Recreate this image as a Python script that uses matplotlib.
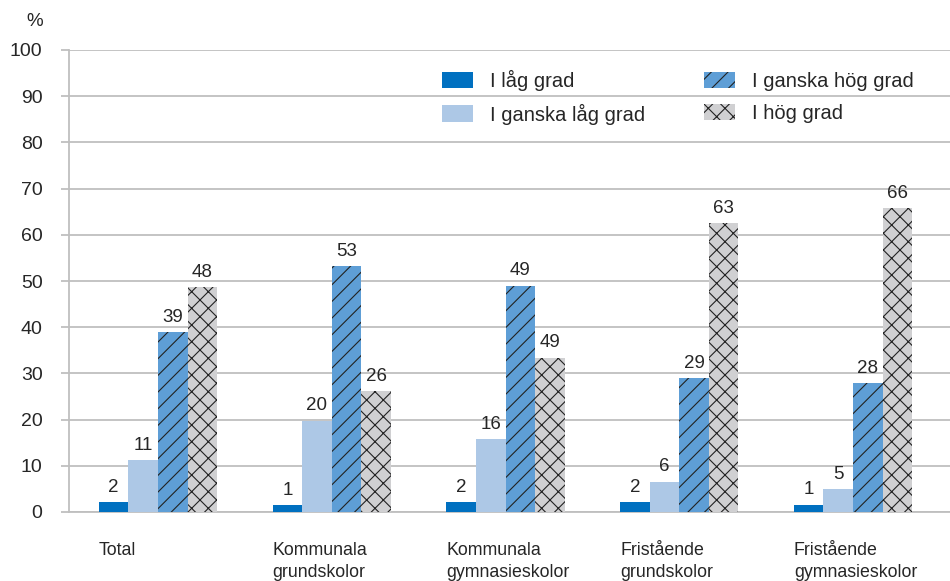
import matplotlib
matplotlib.use("Agg")
import matplotlib.pyplot as plt
import numpy as np

categories = ["Total", "Kommunala\ngrundskolor", "Kommunala\ngymnasieskolor",
              "Fristående\ngrundskolor", "Fristående\ngymnasieskolor"]
series_names = ["I låg grad", "I ganska låg grad", "I ganska hög grad", "I hög grad"]
# bar heights as drawn
low = [2.2, 1.5, 2.2, 2.2, 1.6]
fairly_low = [11.3, 19.8, 15.8, 6.6, 5.0]
fairly_high = [38.9, 53.3, 49.0, 29.0, 27.9]
high = [48.6, 26.2, 33.4, 62.6, 65.8]
# value labels as printed
low_lbl = ["2", "1", "2", "2", "1"]
fairly_low_lbl = ["11", "20", "16", "6", "5"]
fairly_high_lbl = ["39", "53", "49", "29", "28"]
high_lbl = ["48", "26", "49", "63", "66"]
y_ticks = [0, 10, 20, 30, 40, 50, 60, 70, 80, 90, 100]

plt.rcParams['font.family'] = ['Liberation Sans', 'DejaVu Sans']
plt.rcParams['hatch.linewidth'] = 0.8

fig = plt.figure(figsize=(9.5, 5.81), dpi=100)
ax = fig.add_axes([69/950, (581-512)/581, 1 - 69/950, (512-50)/581])

colors = ["#0070C0", "#ADC8E6", "#5E9ED6", "#D0D0D2"]
hatches = [None, None, "//", "xx"]
values = [low, fairly_low, fairly_high, high]
labels = [low_lbl, fairly_low_lbl, fairly_high_lbl, high_lbl]
txt = "#262626"

x = np.arange(len(categories))
w = 0.17
for i in range(4):
    pos = x + (i - 1.5) * w
    bars = ax.bar(pos, values[i], width=w, color=colors[i], hatch=hatches[i],
                  edgecolor="#222222" if hatches[i] else colors[i],
                  linewidth=0, label=series_names[i], zorder=3)
    for b, t in zip(bars, labels[i]):
        ax.annotate(t, (b.get_x() + b.get_width()/2, b.get_height()),
                    xytext=(0, 4.5), textcoords="offset points",
                    ha="center", va="bottom", fontsize=13.5, color=txt)

ax.set_xlim(-0.512, 4.558)
ax.set_ylim(0, 100)
ax.set_yticks(y_ticks)
ax.set_yticklabels([str(v) for v in y_ticks], fontsize=14, color=txt)
ax.tick_params(axis='y', length=6, width=1.3, color="#BFBFBF", pad=13)
ax.set_xticks([])
ax.grid(axis='y', color="#BFBFBF", linewidth=1.3, zorder=0)
for s in ["top", "right"]:
    ax.spines[s].set_visible(False)
ax.spines["left"].set_color("#BFBFBF")
ax.spines["left"].set_linewidth(1.3)
ax.spines["bottom"].set_color("#BFBFBF")
ax.spines["bottom"].set_linewidth(1.3)

for xi, c in zip(x, categories):
    ax.text(xi - 2*w, -6.4, c, ha="left", va="top", fontsize=12.8,
            color=txt, linespacing=1.42)

fig.text(35/950, 1 - 21/581, "%", ha="center", va="center", fontsize=13.5, color=txt)

handles, labs = ax.get_legend_handles_labels()
leg = fig.legend(handles, labs, ncol=2, loc="upper left",
                 bbox_to_anchor=(442/950, 1 - 70/581), frameon=False,
                 fontsize=14.5, handlelength=1.55, handleheight=0.9,
                 handletextpad=0.85, columnspacing=2.9, labelspacing=0.62,
                 borderpad=0, borderaxespad=0)
for t in leg.get_texts():
    t.set_color(txt)

fig.savefig("out.png", dpi=100)
